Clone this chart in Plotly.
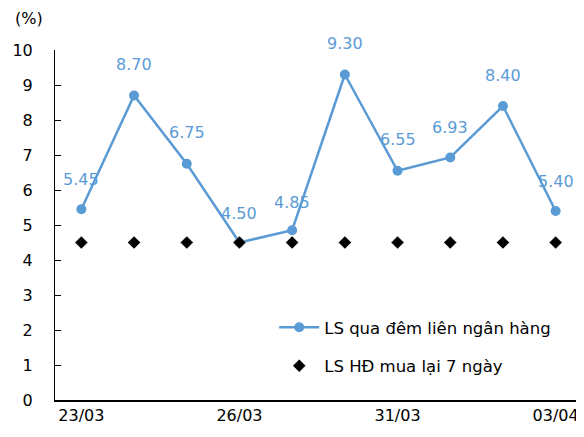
import plotly.graph_objects as go

dates = ["23/03", "24/03", "25/03", "26/03", "27/03", "30/03", "31/03", "01/04", "02/04", "03/04"]
overnight = [5.45, 8.70, 6.75, 4.50, 4.85, 9.30, 6.55, 6.93, 8.40, 5.40]
repo7d = [4.5, 4.5, 4.5, 4.5, 4.5, 4.5, 4.5, 4.5, 4.5, 4.5]
tick_dates = ["23/03", "26/03", "31/03", "03/04"]
label_shift = [30, 31, 31, 29, 28, 31, 31, 30, 31, 30]

BLUE = "#5B9BD5"
FONT = "DejaVu Sans"

fig = go.Figure()
fig.add_trace(go.Scatter(
    x=dates, y=overnight, mode="lines+markers",
    name="LS qua đêm liên ngân hàng", legendgroup="a",
    line=dict(color=BLUE, width=2.5),
    marker=dict(color=BLUE, size=10, symbol="circle"),
))
fig.add_trace(go.Scatter(
    x=dates, y=repo7d, mode="markers",
    name="LS HĐ mua lại 7 ngày", legendgroup="b",
    marker=dict(color="black", size=10, symbol="diamond",
                line=dict(color="white", width=0.5)),
))

for d, v, s in zip(dates, overnight, label_shift):
    fig.add_annotation(x=d, y=v, text=f"{v:.2f}", showarrow=False,
                       yshift=s, font=dict(family=FONT, size=16, color=BLUE))

fig.add_annotation(x=0, xref="paper", xanchor="center", xshift=-26,
                   y=1, yref="paper", yanchor="middle", yshift=32,
                   text="(%)", showarrow=False,
                   font=dict(family=FONT, size=16, color="black"))

fig.update_layout(
    width=576, height=429,
    margin=dict(l=47, r=2, t=42, b=37, autoexpand=False),
    paper_bgcolor="white", plot_bgcolor="white",
    font=dict(family=FONT, size=16, color="black"),
    showlegend=True,
    legend=dict(x=0.416, y=0.257, xanchor="left", yanchor="top",
                bgcolor="rgba(0,0,0,0)", font=dict(family=FONT, size=16.5),
                tracegroupgap=14, itemwidth=40),
    xaxis=dict(type="category", range=[-0.5, 9.5], automargin=False,
               tickmode="array", tickvals=tick_dates, ticktext=tick_dates,
               showgrid=False, showline=True, linecolor="black", linewidth=1.5,
               ticks="", zeroline=False),
    yaxis=dict(range=[0, 10], dtick=1, showgrid=False, showline=True,
               automargin=False,
               linecolor="black", linewidth=1, ticks="inside", ticklen=6,
               tickcolor="black", zeroline=False, ticklabelstandoff=18),
)

fig.write_html("out.html")
